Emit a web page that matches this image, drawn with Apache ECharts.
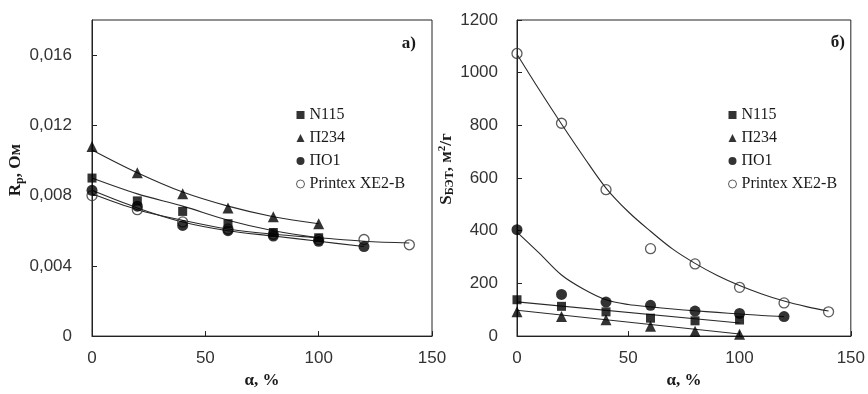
<!DOCTYPE html>
<html>
<head>
<meta charset="utf-8">
<script src="https://cdn.jsdelivr.net/npm/echarts@6/dist/echarts.min.js"></script>
<style>html,body{margin:0;padding:0;background:#fff}#c{width:868px;height:394px}</style>
</head>
<body>
<div id="c"></div>
<script>
// ---------- data ----------
const seriesNames = ['N115', 'П234', 'ПО1', 'Printex XE2-B'];
const alpha6 = [0, 20, 40, 60, 80, 100];
const alpha7 = [0, 20, 40, 60, 80, 100, 120];
const alpha8 = [0, 20, 40, 60, 80, 100, 120, 140];

// panel a) resistance, Ohm
const rN115 = [0.0090, 0.0077, 0.0071, 0.0064, 0.0059, 0.0056];
const rP234 = [0.0108, 0.0093, 0.0081, 0.0073, 0.0068, 0.0064];
const rPO1  = [0.0083, 0.0074, 0.0063, 0.0060, 0.0057, 0.0054, 0.0051];
const rXE2  = [0.0080, 0.0072, 0.0065, 0.0061, 0.0058, 0.0055, 0.0055, 0.0052];
// trend lines (same alpha grids)
const rN115Fit = [0.0090, 0.0081, 0.0074, 0.0066, 0.0060, 0.0056];
const rP234Fit = [0.0106, 0.0093, 0.0082, 0.0074, 0.0068, 0.0064];
const rPO1Fit  = [0.0083, 0.0073, 0.0065, 0.0060, 0.0057, 0.0054, 0.0051];
const rXE2Fit  = [0.0081, 0.0072, 0.0066, 0.0061, 0.0058, 0.0056, 0.0054, 0.0053];

// panel б) BET surface, m2/g
const sN115 = [138, 113, 92, 68, 58, 61];
const sP234 = [92, 74, 62, 37, 18, 7];
const sPO1  = [404, 158, 129, 117, 95, 86, 74];
const sXE2  = [1073, 808, 556, 332, 274, 185, 126, 92];
// trend lines
const alphaLin = [0, 100];
const sN115Fit = [130, 50];
const sP234Fit = [98, 8];
const alphaFitPO1 = [0, 10, 20, 30, 40, 50, 60, 70, 80, 90, 100, 110, 120];
const sPO1Fit = [395, 315, 232, 178, 138, 120, 111, 103, 96, 90, 84, 78, 74];
const alphaFitXE2 = [0, 10, 20, 30, 40, 50, 60, 70, 80, 90, 100, 110, 120, 130, 140];
const sXE2Fit = [1070, 935, 805, 680, 562, 472, 398, 330, 276, 230, 192, 160, 133, 112, 95];

// axis ticks
const xTicks = {min: 0, max: 150, interval: 50};
const yTicksA = {min: 0, max: 0.018, interval: 0.004};
const yTicksB = {min: 0, max: 1200, interval: 200};

// ---------- build ----------
const zip = (xs, ys) => xs.map((x, i) => [x, ys[i]]);
const serif = "'Liberation Serif', 'DejaVu Serif', serif";
const narrow = "'Liberation Sans Narrow', 'Liberation Sans', sans-serif";
const ink = '#1a1a1a';
const lineCol = '#2a2a2a';

const markerStyle = {
  'N115': {symbol: 'rect', symbolSize: 9, itemStyle: {color: '#000'}},
  'П234': {symbol: 'triangle', symbolSize: 11, itemStyle: {color: '#000'}},
  'ПО1': {symbol: 'circle', symbolSize: 11, itemStyle: {color: '#000'}},
  'Printex XE2-B': {symbol: 'circle', symbolSize: 10,
    itemStyle: {color: 'rgba(0,0,0,0)', borderColor: '#333', borderWidth: 1.3}}
};

function trend(idx, xs, ys) {
  return {type: 'line', name: 'fit', xAxisIndex: idx, yAxisIndex: idx,
    data: zip(xs, ys), smooth: 0.35, showSymbol: false, symbol: 'none',
    lineStyle: {color: lineCol, width: 1.1}, z: 2, silent: true};
}
function pts(idx, name, xs, ys) {
  const m = markerStyle[name];
  return {type: 'scatter', name: name, xAxisIndex: idx, yAxisIndex: idx,
    data: zip(xs, ys), symbol: m.symbol, symbolSize: m.symbolSize,
    itemStyle: m.itemStyle, z: 3};
}

function legendFor(left) {
  return {
    orient: 'vertical', left: left, top: 102, itemWidth: 8, itemHeight: 8, itemGap: 7,
    textStyle: {fontFamily: serif, fontSize: 16, color: ink, lineHeight: 16},
    selectedMode: false,
    data: [
      {name: 'N115', icon: 'rect', itemStyle: {color: '#000'}},
      {name: 'П234', icon: 'triangle', itemStyle: {color: '#000'}},
      {name: 'ПО1', icon: 'circle', itemStyle: {color: '#000'}},
      {name: 'Printex XE2-B', icon: 'circle',
        itemStyle: {color: '#fff', borderColor: '#333', borderWidth: 1}}
    ]
  };
}

function xAxisFor(idx) {
  return {type: 'value', gridIndex: idx, min: xTicks.min, max: xTicks.max, interval: xTicks.interval,
    name: 'α, %', nameLocation: 'middle', nameGap: 31,
    nameTextStyle: {fontFamily: serif, fontWeight: 'bold', fontSize: 17, color: ink},
    axisLine: {lineStyle: {color: '#222', width: 1}},
    axisTick: {inside: true, length: 5, lineStyle: {color: '#222'}},
    axisLabel: {fontFamily: narrow, fontSize: 17, color: '#333', margin: 14, formatter: v => String(v)},
    splitLine: {show: false}};
}

const option = {
  animation: false,
  backgroundColor: '#fff',
  title: [
    {text: 'а)', right: 447, top: 30, textStyle: {fontFamily: serif, fontWeight: 'bold', fontSize: 17, color: ink}},
    {text: 'б)', right: 18, top: 29, textStyle: {fontFamily: serif, fontWeight: 'bold', fontSize: 17, color: ink}}
  ],
  legend: [legendFor(291), legendFor(723)],
  grid: [
    {left: 92, right: 436, top: 20, bottom: 49, show: true, borderColor: '#222', borderWidth: 1, backgroundColor: 'transparent'},
    {left: 517, right: 13, top: 20, bottom: 49, show: true, borderColor: '#222', borderWidth: 1, backgroundColor: 'transparent'}
  ],
  xAxis: [xAxisFor(0), xAxisFor(1)],
  yAxis: [
    {type: 'value', gridIndex: 0, min: yTicksA.min, max: yTicksA.max, interval: yTicksA.interval,
      name: '{b|R}{s|р}{b|, Ом}', nameLocation: 'middle', nameGap: 62,
      nameTextStyle: {padding: [0, 0, 0, 16], rich: {
        b: {fontFamily: serif, fontWeight: 'bold', fontSize: 17, color: ink},
        s: {fontFamily: serif, fontWeight: 'bold', fontSize: 12, color: ink, verticalAlign: 'bottom', padding: [8, 0, 0, 0]}
      }},
      axisLine: {show: true, lineStyle: {color: '#222', width: 1}},
      axisTick: {show: true, inside: true, length: 5, lineStyle: {color: '#222'}},
      axisLabel: {fontFamily: narrow, fontSize: 17, color: '#333', margin: 20, showMaxLabel: false,
        formatter: v => (v === 0 ? '0' : v.toFixed(3).replace('.', ','))},
      splitLine: {show: false}},
    {type: 'value', gridIndex: 1, min: yTicksB.min, max: yTicksB.max, interval: yTicksB.interval,
      name: '{b|S}{s|БЭТ}{b|, м}{p|2}{b|/г}', nameLocation: 'middle', nameGap: 50,
      nameTextStyle: {padding: [0, 0, 0, 18], rich: {
        b: {fontFamily: serif, fontWeight: 'bold', fontSize: 17, color: ink},
        s: {fontFamily: serif, fontWeight: 'bold', fontSize: 12, color: ink, verticalAlign: 'bottom', padding: [8, 0, 0, 0]},
        p: {fontFamily: serif, fontWeight: 'bold', fontSize: 11, color: ink, verticalAlign: 'top', padding: [0, 0, 8, 0]}
      }},
      axisLine: {show: true, lineStyle: {color: '#222', width: 1}},
      axisTick: {show: true, inside: true, length: 5, lineStyle: {color: '#222'}},
      axisLabel: {fontFamily: narrow, fontSize: 17, color: '#333', margin: 19, formatter: v => String(v)},
      splitLine: {show: false}}
  ],
  series: [
    trend(0, alpha8, rXE2Fit),
    trend(0, alpha7, rPO1Fit),
    trend(0, alpha6, rN115Fit),
    trend(0, alpha6, rP234Fit),
    pts(0, 'Printex XE2-B', alpha8, rXE2),
    pts(0, 'N115', alpha6, rN115),
    pts(0, 'П234', alpha6, rP234),
    pts(0, 'ПО1', alpha7, rPO1),

    trend(1, alphaFitXE2, sXE2Fit),
    trend(1, alphaFitPO1, sPO1Fit),
    trend(1, alphaLin, sN115Fit),
    trend(1, alphaLin, sP234Fit),
    pts(1, 'Printex XE2-B', alpha8, sXE2),
    pts(1, 'N115', alpha6, sN115),
    pts(1, 'П234', alpha6, sP234),
    pts(1, 'ПО1', alpha7, sPO1)
  ]
};

const chart = echarts.init(document.getElementById('c'), null, {renderer: 'canvas'});
chart.setOption(option);
</script>
</body>
</html>
